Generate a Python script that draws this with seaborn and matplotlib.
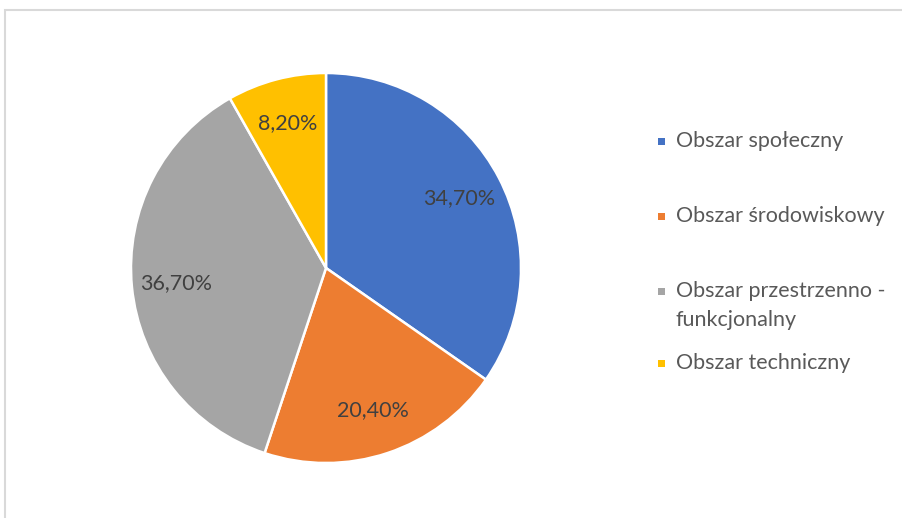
import matplotlib.pyplot as plt
import seaborn as sns
from matplotlib.patches import Rectangle

# data
categories = ["Obszar społeczny", "Obszar środowiskowy",
              "Obszar przestrzenno -\nfunkcjonalny", "Obszar techniczny"]
shares = [34.7, 20.4, 36.7, 8.2]
pct_labels = ["34,70%", "20,40%", "36,70%", "8,20%"]
colors = ["#4472C4", "#ED7D31", "#A5A5A5", "#FFC000"]

sns.set_style("white")
plt.rcParams['font.family'] = ['Lato', 'DejaVu Sans']

W, H = 903, 518
fig = plt.figure(figsize=(W / 100, H / 100), dpi=100)

# chart frame (cropped at right/bottom)
fig.add_artist(Rectangle((5 / W, -0.05), 1.2, 1 - 9.5 / H + 0.05,
                         transform=fig.transFigure, fill=False,
                         edgecolor="#D9D9D9", linewidth=1.5))

# pie axes: center (326, 268), radius 195 px
cx, cy, r = 326, 268, 195
ax = fig.add_axes([(cx - r) / W, (H - cy - r) / H, 2 * r / W, 2 * r / H])
wedges, texts = ax.pie(shares, colors=colors, startangle=90, counterclock=False,
                       labels=pct_labels, labeldistance=0.77,
                       wedgeprops=dict(edgecolor="white", linewidth=1.8),
                       textprops=dict(color="#404040", fontsize=15.5))
for t in texts:
    t.set_ha("center")
    t.set_va("center")
ax.set_xlim(-1, 1)
ax.set_ylim(-1, 1)
ax.set_aspect("equal")
ax.axis("off")

# legend drawn manually (Excel-like layout)
legend_y = [141, 216, 291, 363]
line_step = 29
for lab, col, y in zip(categories, colors, legend_y):
    s = 7
    fig.add_artist(Rectangle(((662 - s / 2) / W, (H - y - s / 2) / H), s / W, s / H,
                             transform=fig.transFigure, facecolor=col, edgecolor="none"))
    for i, line in enumerate(lab.split("\n")):
        fig.text(676 / W, (H - y - i * line_step) / H, line, color="#595959",
                 fontsize=15.5, ha="left", va="center")

fig.savefig("out.png", dpi=100)
